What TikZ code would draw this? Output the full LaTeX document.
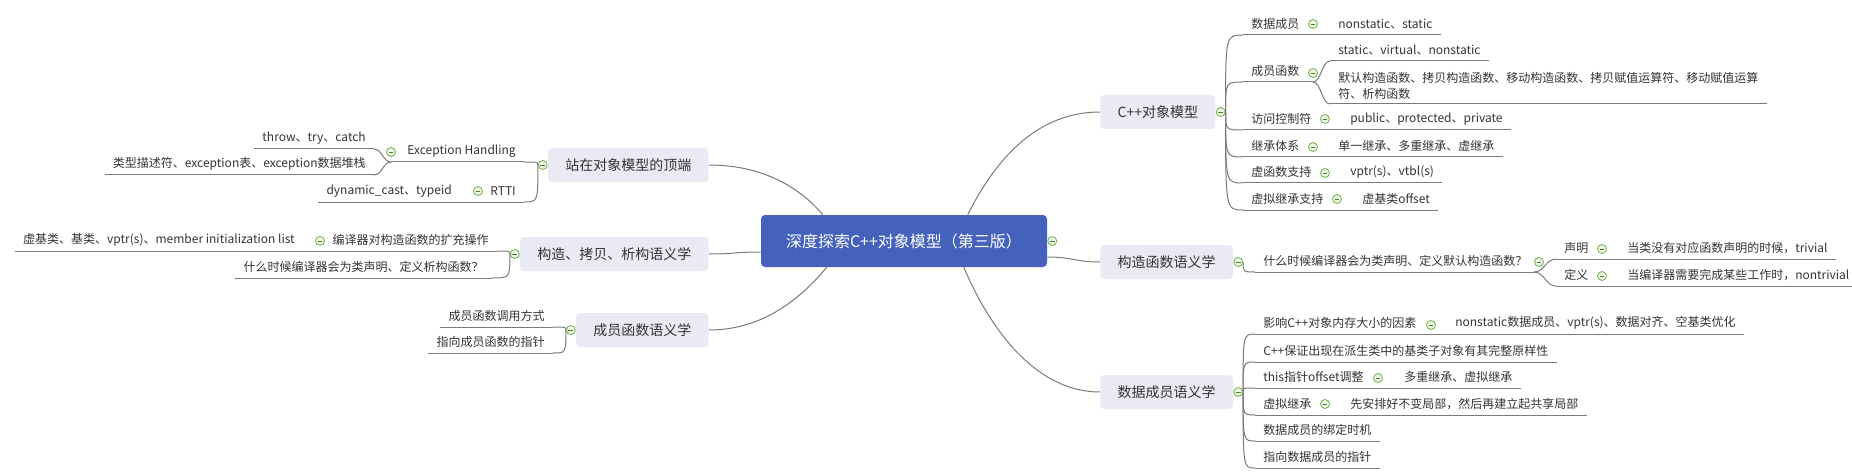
\documentclass[tikz,border=0pt]{standalone}
\usepackage{fontspec}
\setmainfont{Noto Sans CJK SC}
\usetikzlibrary{calc}
\definecolor{rootblue}{HTML}{4462BC}
\definecolor{topicgray}{HTML}{E9EAF3}
\definecolor{linegray}{HTML}{7A7A7A}
\definecolor{textgray}{HTML}{333333}
\definecolor{foldgreen}{HTML}{6DB33F}
\begin{document}
\begin{tikzpicture}[
    x=0.75pt, y=-0.75pt,
    link/.style={draw=linegray, line width=0.75pt},
    rootbox/.style={rectangle, rounded corners=3pt, fill=rootblue, text=white, font=\fontsize{12}{14}\selectfont, minimum width=214.5pt, minimum height=39pt},
    topicbox/.style={rectangle, rounded corners=3pt, fill=topicgray, text=textgray, font=\fontsize{10.5}{13}\selectfont, inner xsep=13pt, minimum height=25.5pt},
    leafbox/.style={inner xsep=6pt, inner ysep=0pt, minimum height=15.75pt, text=textgray, font=\fontsize{9}{12}\selectfont},
    foldbtn/.style={circle, draw=foldgreen, fill=foldgreen!12, line width=0.6pt, minimum size=6.75pt, inner sep=0pt,
      path picture={\draw[foldgreen!70!black, line width=0.6pt] ([xshift=1.6pt]path picture bounding box.west) -- ([xshift=-1.6pt]path picture bounding box.east);}}
  ]
  \useasboundingbox (0,0) rectangle (1852,474);

  \node[rootbox] (book) at (904,241) {深度探索C++对象模型（第三版）};
  \node[foldbtn] (bookf) at ($(book.east)+(5,0)$) {};

  \node[topicbox, anchor=east] (top) at (709,165) {站在对象模型的顶端};
  \node[topicbox, anchor=east] (ctor) at (709,254) {构造、拷贝、析构语义学};
  \node[topicbox, anchor=east] (mfun) at (709,330) {成员函数语义学};
  \node[topicbox, anchor=west] (cpp) at (1100,112) {C++对象模型};
  \node[topicbox, anchor=west] (csem) at (1100,262) {构造函数语义学};
  \node[topicbox, anchor=west] (dsem) at (1100,392) {数据成员语义学};
  \node[foldbtn] (topf) at ($(top.west)+(-5,0)$) {};
  \node[foldbtn] (ctorf) at ($(ctor.west)+(-5,0)$) {};
  \node[foldbtn] (mfunf) at ($(mfun.west)+(-5,0)$) {};
  \node[foldbtn] (cppf) at ($(cpp.east)+(5,0)$) {};
  \node[foldbtn] (csemf) at ($(csem.east)+(5,0)$) {};
  \node[foldbtn] (dsemf) at ($(dsem.east)+(5,0)$) {};

  \draw[link] (top.east) .. controls +(50,0) and +(-25,-30) .. ($(book.north west)+(62,0)$);
  \draw[link] (ctor.east) .. controls +(25,0) and +(-25,0) .. ($(book.west)+(0,11)$);
  \draw[link] (mfun.east) .. controls +(55,0) and +(-25,30) .. ($(book.south west)+(66,0)$);
  \draw[link] ($(book.north west)+(207,0)$) .. controls +(30,-60) and +(-60,0) .. (cpp.west);
  \draw[link] ($(book.east)+(0,16)$) .. controls +(25,0) and +(-25,0) .. (csem.west);
  \draw[link] ($(book.south west)+(203,0)$) .. controls +(30,70) and +(-60,0) .. (dsem.west);

  \node[leafbox, anchor=south east] (teh) at (524,162) {Exception Handling};
  \node[foldbtn] (tehf) at (391,152) {};
  \node[leafbox, anchor=south east] (teha) at (374,149) {throw、try、catch};
  \node[leafbox, anchor=south east] (tehb) at (374,175) {类型描述符、exception表、exception数据堆栈};
  \node[leafbox, anchor=south east] (trtti) at (524,202) {RTTI};
  \node[foldbtn] (trttif) at (478,191) {};
  \node[leafbox, anchor=south east] (trttiv) at (460,202) {dynamic\_cast、typeid};
  \draw[link] (topf.west) .. controls (topf.west |- teh.south) .. (teh.south east);
  \draw[link] (topf.west) .. controls (topf.west |- trtti.south) .. (trtti.south east);
  \draw[link] (tehf |- teh.south) -- (teh.south east);
  \draw[link] (teha.south east) .. controls +(8,0) and +(-8,0) .. (tehf |- teh.south);
  \draw[link] (tehb.south east) .. controls +(8,0) and +(-8,0) .. (tehf |- teh.south);
  \draw[link] (teha.south west) -- (teha.south east);
  \draw[link] (tehb.south west) -- (tehb.south east);
  \draw[link] (trttiv.south west) -- (trtti.south east);

  \node[leafbox, anchor=south east] (cext) at (497,251) {编译器对构造函数的扩充操作};
  \node[foldbtn] (cextf) at (320,241) {};
  \node[leafbox, anchor=south east] (cextv) at (303,251) {虚基类、基类、vptr(s)、member initialization list};
  \node[leafbox, anchor=south east] (cdtor) at (492,278) {什么时候编译器会为类声明、定义析构函数？};
  \draw[link] (ctorf.west) .. controls (ctorf.west |- cext.south) .. (cext.south east);
  \draw[link] (ctorf.west) .. controls (ctorf.west |- cdtor.south) .. (cdtor.south east);
  \draw[link] (cextv.south west) -- (cext.south east);
  \draw[link] (cdtor.south west) -- (cdtor.south east);

  \node[leafbox, anchor=south east] (mcall) at (553,327) {成员函数调用方式};
  \node[leafbox, anchor=south east] (mptr) at (553,353) {指向成员函数的指针};
  \draw[link] (mfunf.west) .. controls (mfunf.west |- mcall.south) .. (mcall.south east);
  \draw[link] (mfunf.west) .. controls (mfunf.west |- mptr.south) .. (mptr.south east);
  \draw[link] (mcall.south west) -- (mcall.south east);
  \draw[link] (mptr.south west) -- (mptr.south east);

  \node[leafbox, anchor=south west] (cdm) at (1243,35) {数据成员};
  \node[foldbtn] (cdmf) at (1313,24) {};
  \node[leafbox, anchor=south west] (cdmv) at (1330,35) {nonstatic、static};
  \node[leafbox, anchor=south west] (cmf) at (1243,82) {成员函数};
  \node[foldbtn] (cmff) at (1313,73) {};
  \node[leafbox, anchor=south west] (cmfa) at (1330,61) {static、virtual、nonstatic};
  \node[leafbox, anchor=south west, align=left, minimum height=27pt] (cmfb) at (1330,104) {默认构造函数、拷贝构造函数、移动构造函数、拷贝赋值运算符、移动赋值运算\\符、析构函数};
  \node[leafbox, anchor=south west] (cac) at (1243,130) {访问控制符};
  \node[foldbtn] (cacf) at (1325,119) {};
  \node[leafbox, anchor=south west] (cacv) at (1342,130) {public、protected、private};
  \node[leafbox, anchor=south west] (cin) at (1243,157) {继承体系};
  \node[foldbtn] (cinf) at (1313,147) {};
  \node[leafbox, anchor=south west] (cinv) at (1330,157) {单一继承、多重继承、虚继承};
  \node[leafbox, anchor=south west] (cvf) at (1243,183) {虚函数支持};
  \node[foldbtn] (cvff) at (1325,173) {};
  \node[leafbox, anchor=south west] (cvfv) at (1342,183) {vptr(s)、vtbl(s)};
  \node[leafbox, anchor=south west] (cvi) at (1243,210) {虚拟继承支持};
  \node[foldbtn] (cvif) at (1337,199) {};
  \node[leafbox, anchor=south west] (cviv) at (1354,210) {虚基类offset};
  \foreach \n in {cdm,cmf,cac,cin,cvf,cvi}
    \draw[link] (cppf.east) .. controls (cppf.east |- \n.south) .. (\n.south west);
  \draw[link] (cdm.south west) -- (cdmv.south east);
  \draw[link] (cmf.south west) -- (cmff |- cmf.south);
  \draw[link] (cmff |- cmf.south) .. controls +(8,0) and +(-8,0) .. (cmfa.south west);
  \draw[link] (cmff |- cmf.south) .. controls +(8,0) and +(-8,0) .. (cmfb.south west);
  \draw[link] (cmfa.south west) -- (cmfa.south east);
  \draw[link] (cmfb.south west) -- (cmfb.south east);
  \draw[link] (cac.south west) -- (cacv.south east);
  \draw[link] (cin.south west) -- (cinv.south east);
  \draw[link] (cvf.south west) -- (cvfv.south east);
  \draw[link] (cvi.south west) -- (cviv.south east);

  \node[leafbox, anchor=south west] (cwhen) at (1255,272) {什么时候编译器会为类声明、定义默认构造函数？};
  \node[foldbtn] (cwhenf) at (1539,262) {};
  \node[leafbox, anchor=south west] (cdecl) at (1556,259) {声明};
  \node[foldbtn] (cdeclf) at (1602,249) {};
  \node[leafbox, anchor=south west] (cdeclv) at (1619,259) {当类没有对应函数声明的时候，trivial};
  \node[leafbox, anchor=south west] (cdef) at (1556,286) {定义};
  \node[foldbtn] (cdeff) at (1602,276) {};
  \node[leafbox, anchor=south west] (cdefv) at (1619,286) {当编译器需要完成某些工作时，nontrivial};
  \draw[link] (csemf.east) .. controls (csemf.east |- cwhen.south) .. (cwhen.south west);
  \draw[link] (cwhen.south west) -- (cwhenf.west |- cwhen.south);
  \draw[link] (cwhenf.west |- cwhen.south) .. controls +(10,0) and +(-10,0) .. (cdecl.south west);
  \draw[link] (cwhenf.west |- cwhen.south) .. controls +(10,0) and +(-10,0) .. (cdef.south west);
  \draw[link] (cdecl.south west) -- (cdeclv.south east);
  \draw[link] (cdef.south west) -- (cdefv.south east);

  \node[leafbox, anchor=south west] (dsize) at (1255,334) {影响C++对象内存大小的因素};
  \node[foldbtn] (dsizef) at (1431,325) {};
  \node[leafbox, anchor=south west] (dsizev) at (1447,334) {nonstatic数据成员、vptr(s)、数据对齐、空基类优化};
  \node[leafbox, anchor=south west] (dbase) at (1255,362) {C++保证出现在派生类中的基类子对象有其完整原样性};
  \node[leafbox, anchor=south west] (dthis) at (1255,388) {this指针offset调整};
  \node[foldbtn] (dthisf) at (1378,378) {};
  \node[leafbox, anchor=south west] (dthisv) at (1396,388) {多重继承、虚拟继承};
  \node[leafbox, anchor=south west] (dvirt) at (1255,415) {虚拟继承};
  \node[foldbtn] (dvirtf) at (1325,404) {};
  \node[leafbox, anchor=south west] (dvirtv) at (1342,415) {先安排好不变局部，然后再建立起共享局部};
  \node[leafbox, anchor=south west] (dbind) at (1255,441) {数据成员的绑定时机};
  \node[leafbox, anchor=south west] (dptr) at (1255,468) {指向数据成员的指针};
  \foreach \n in {dsize,dbase,dthis,dvirt,dbind,dptr}
    \draw[link] (dsemf.east) .. controls (dsemf.east |- \n.south) .. (\n.south west);
  \draw[link] (dsize.south west) -- (dsizev.south east);
  \draw[link] (dbase.south west) -- (dbase.south east);
  \draw[link] (dthis.south west) -- (dthisv.south east);
  \draw[link] (dvirt.south west) -- (dvirtv.south east);
  \draw[link] (dbind.south west) -- (dbind.south east);
  \draw[link] (dptr.south west) -- (dptr.south east);
\end{tikzpicture}
\end{document}
